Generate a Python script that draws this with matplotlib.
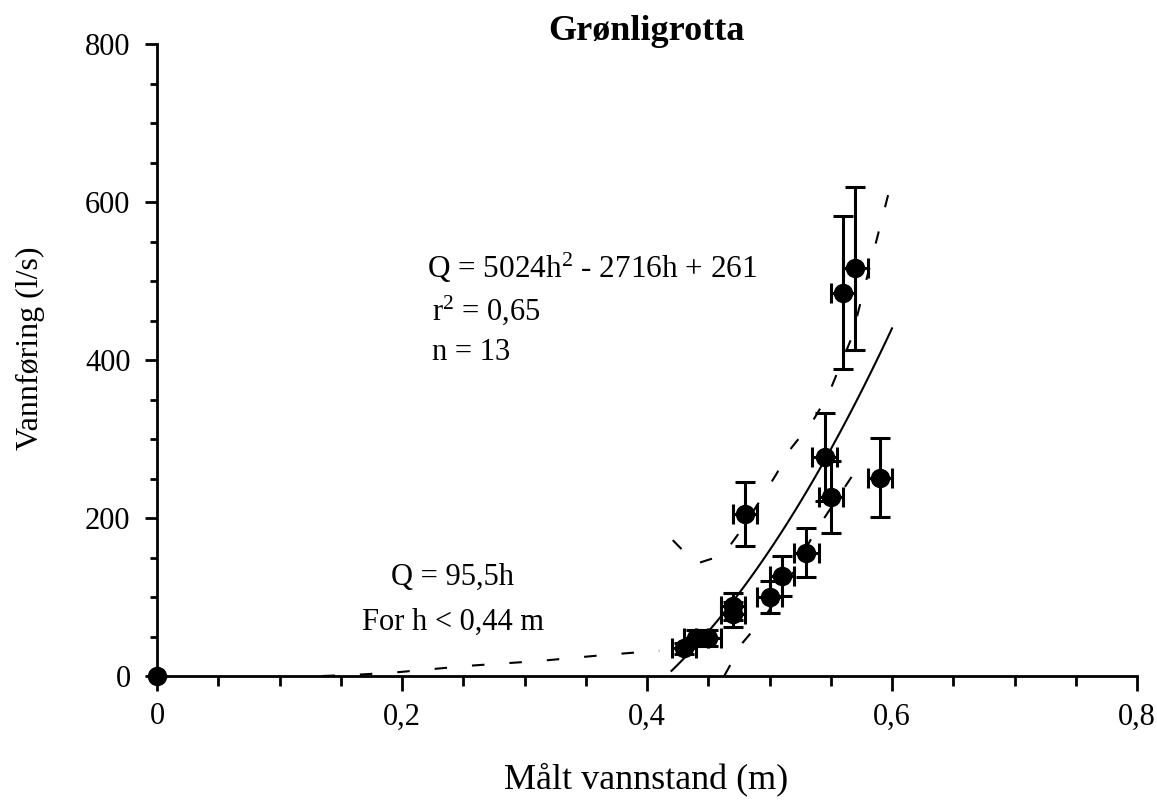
import matplotlib
matplotlib.use("Agg")
import matplotlib.pyplot as plt
import numpy as np
from matplotlib.ticker import MultipleLocator, FuncFormatter

# ---- data ----
h_obs = [0.0, 0.43, 0.44, 0.45, 0.47, 0.47, 0.48, 0.50, 0.51, 0.53, 0.545, 0.55, 0.56, 0.57, 0.59]
q_obs = [0, 35, 48, 48, 88, 78, 205, 100, 127, 156, 277, 227, 485, 516, 251]
q_err_frac = 0.20
h_err = 0.01

fit_coef = [5024, -2716, 261]
fit_range = [0.42, 0.60]

upper_h = [0.421, 0.44, 0.462, 0.478, 0.491, 0.505, 0.518, 0.535, 0.548, 0.567, 0.58, 0.60]
upper_q = [172, 142, 153, 187, 219, 254, 289, 322, 356, 428, 507, 628]
lower_h = [0.463, 0.478, 0.496, 0.51, 0.537, 0.567]
lower_q = [0, 42, 75, 106, 182, 252]
lin_h = [0.135, 0.168, 0.198, 0.255, 0.312, 0.368, 0.41]
lin_q = [0, 2, 5, 13, 19, 27, 32]

plt.rcParams['font.family'] = ['Liberation Serif', 'DejaVu Serif']
plt.rcParams['mathtext.fontset'] = 'custom'
plt.rcParams['mathtext.rm'] = 'Liberation Serif'

W, H = 1157, 800
fig = plt.figure(figsize=(W / 100, H / 100), dpi=100)
ax = fig.add_axes([157 / W, 1 - 676 / H, (1137 - 157) / W, (676 - 44) / H])

q_err = [q * q_err_frac for q in q_obs]
x_err = [0 if h == 0 else h_err for h in h_obs]
ax.errorbar(h_obs[1:], q_obs[1:], yerr=q_err[1:], xerr=x_err[1:], fmt='o', color='black',
            markersize=13, elinewidth=2.2, capsize=7, capthick=2.2, zorder=5)
ax.plot([h_obs[0]], [q_obs[0]], 'o', color='black', markersize=13, clip_on=False, zorder=6)

hh = np.linspace(fit_range[0], fit_range[1], 100)
ax.plot(hh, np.polyval(fit_coef, hh), color='black', lw=1.5, zorder=4)

dash = (6, 12)
ax.plot(upper_h, upper_q, color='black', lw=1.5, dashes=dash)
ax.plot(lower_h, lower_q, color='black', lw=1.5, dashes=dash)
ax.plot(lin_h, lin_q, color='black', lw=1.5, dashes=dash)

ax.set_xlim(0, 0.8)
ax.set_ylim(0, 800)
for s in ['top', 'right']:
    ax.spines[s].set_visible(False)
for s in ['left', 'bottom']:
    ax.spines[s].set_linewidth(2)

ax.xaxis.set_major_locator(MultipleLocator(0.2))
ax.xaxis.set_minor_locator(MultipleLocator(0.05))
ax.yaxis.set_major_locator(MultipleLocator(200))
ax.yaxis.set_minor_locator(MultipleLocator(50))
ax.xaxis.set_major_formatter(FuncFormatter(lambda v, p: ('%g' % round(v, 2)).replace('.', ',')))
ax.tick_params(axis='x', which='major', length=11, width=2, direction='out', labelsize=22, pad=8)
ax.tick_params(axis='x', which='minor', length=7, width=2, direction='out')
ax.tick_params(axis='y', which='major', length=9, width=2, direction='out', labelsize=22, pad=10)
ax.tick_params(axis='y', which='minor', length=5, width=2, direction='out')

fig.text(646 / W, 1 - 788 / H, 'Målt vannstand (m)', fontsize=26, ha='center', va='baseline')
fig.text(30 / W, 1 - 348 / H, 'Vannføring (l/s)', fontsize=23, ha='center', va='center',
         rotation=90)
fig.text(646 / W, 1 - 40 / H, 'Grønligrotta', fontsize=26, fontweight='bold',
         ha='center', va='baseline')

ax.text(0.2204, 516, r'Q = 5024h$\mathregular{^2}$ - 2716h + 261', fontsize=22.5, va='center')
ax.text(0.2245, 463, r'r$\mathregular{^2}$ = 0,65', fontsize=22, va='center')
ax.text(0.2245, 410, 'n = 13', fontsize=22, va='center')
ax.text(0.2416, 125, 'Q = 95,5h', fontsize=22, va='center', ha='center')
ax.text(0.2416, 68, 'For h < 0,44 m', fontsize=22, va='center', ha='center')

fig.savefig('out.png', dpi=100)
